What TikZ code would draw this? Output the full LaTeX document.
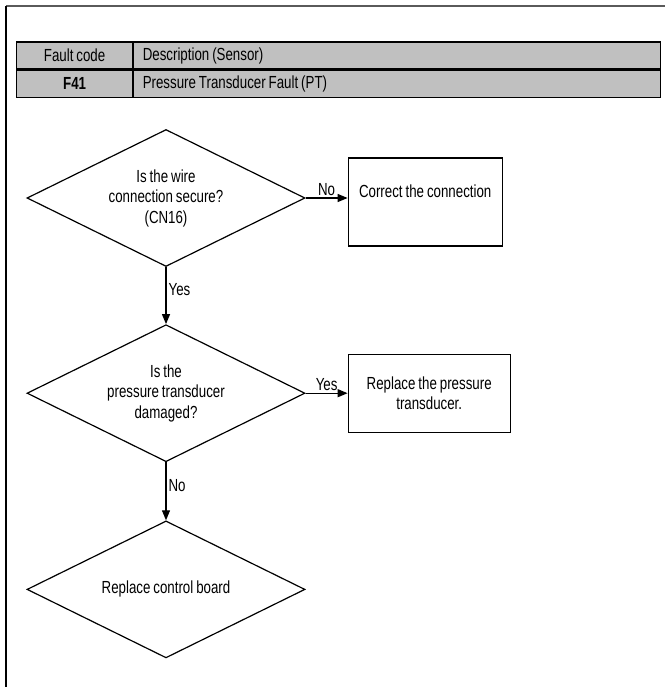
\documentclass[tikz,border=0pt]{standalone}
\usepackage{fontspec}
\setmainfont{Liberation Sans}[FakeStretch=0.76,WordSpace=0.8]
\usetikzlibrary{positioning,arrows.meta,shapes.geometric}
\definecolor{hdr}{RGB}{192,192,192}
\definecolor{frm}{RGB}{90,90,90}

\begin{document}
\begin{tikzpicture}[x=1pt,y=-1pt,font=\fontsize{17.5}{20.5}\selectfont,>={Triangle[length=10pt,width=8pt]},
  node distance=57pt and 42pt,
  dec/.style={draw,line width=1.2pt,diamond,shape aspect=2,minimum width=278pt,minimum height=137pt,inner sep=0pt,align=center},
  act/.style={draw,line width=1.2pt,minimum height=88pt,align=center},
  cell/.style={draw,line width=1.2pt,fill=hdr,minimum height=27pt,inner sep=0pt},
  lbl/.style={inner sep=2pt}]
  \useasboundingbox (0,0) rectangle (664,687);
  % frame
  \draw[frm,line width=2pt] (6,6) -- (665,6);
  \draw[line width=1.5pt] (6,6) -- (6,688);
  % fault table
  \node[cell,anchor=north west,minimum width=116pt] (c11) at (16,41.5) {Fault code};
  \node[cell,right=0pt of c11,minimum width=527pt] (c12) {\makebox[509pt][l]{Description (Sensor)}};
  \node[cell,below=0pt of c11,minimum width=116pt] (c21) {\bfseries F41};
  \node[cell,right=0pt of c21,minimum width=527pt] (c22) {\makebox[509pt][l]{Pressure Transducer Fault (PT)}};
  % flow
  \node[dec] (wire) at (166,198) {Is the wire\\connection secure?\\(CN16)};
  \node[act,right=of wire,yshift=-4pt,minimum width=154pt,text depth=22pt] (fix) {Correct the connection};
  \node[dec,below=of wire] (dmg) {Is the\\pressure transducer\\damaged?};
  \node[act,right=of dmg,minimum width=162pt,minimum height=78pt] (rpt) {Replace the pressure\\transducer.};
  \node[dec,below=58pt of dmg] (board) {Replace control board};
  \draw[line width=1.2pt,->] (wire.east) -- node[lbl,above] (no1) {No} (wire.east-|fix.west);
  \draw[line width=1.2pt,->] (wire) -- node[lbl,right,pos=0.4] (yes1) {Yes} (dmg);
  \draw[line width=1.2pt,->] (dmg.east) -- node[lbl,above] (yes2) {Yes} (rpt.west);
  \draw[line width=1.2pt,->] (dmg) -- node[lbl,right,pos=0.4] (no2) {No} (board);
\end{tikzpicture}
\end{document}
